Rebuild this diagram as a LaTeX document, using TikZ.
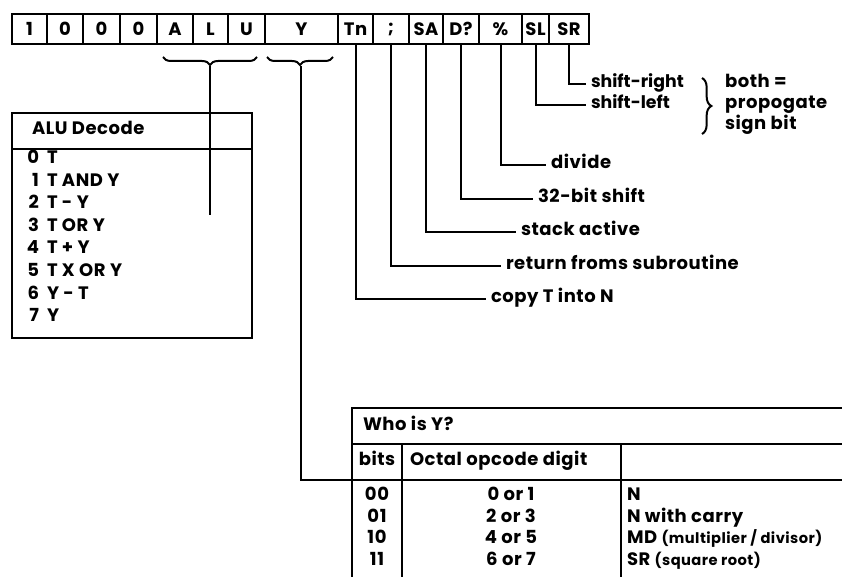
\documentclass[tikz,border=0pt]{standalone}
\usepackage{fontspec}
\setmainfont{Poppins}[LetterSpace=3]
\usetikzlibrary{decorations.pathreplacing}
\tikzset{
  cell/.style={draw, rectangle, inner sep=0pt, outer sep=0pt, minimum height=22.5pt},
  lbl/.style={anchor=west, inner xsep=3pt, inner ysep=0pt, text height=0.72em, text depth=0.18em},
  tight/.style={font=\bfseries\fontsize{13}{15}\selectfont\addfontfeatures{LetterSpace=0}},
  txt/.style={inner sep=0pt, text height=0.72em, text depth=0.18em},
  bracedown/.style={decorate, decoration={brace, mirror, amplitude=6pt}},
  braceright/.style={decorate, decoration={brace, amplitude=7pt}}
}
\newcommand{\paren}[1]{{\fontsize{11}{13}\selectfont\bfseries #1}}
\begin{document}
\begin{tikzpicture}[x=0.75pt, y=-0.75pt, line width=1.5pt, font=\bfseries\fontsize{13.5}{15}\selectfont]
\useasboundingbox (0,0) rectangle (842,577);

% register cells
\foreach \l/\r/\t/\n in {12/47/1/c1, 47/83/0/c2, 83/120/0/c3, 120/157/0/c4,
  157/193/A/c5, 193/228/L/c6, 228/265/U/c7, 265/338/Y/c8, 338/373/Tn/c9,
  373/409/;/c10, 409/443/SA/c11, 443/479/D?/c12, 479/522/\%/c13,
  522/549/SL/c14, 549/589/SR/c15}
  \node[cell, minimum width={(\r-\l)*0.75pt}] (\n) at ({(\l+\r)/2},29) {\t};

% labels on the right
\node[lbl, tight] (sr) at (586,84) {shift-right};
\node[lbl, tight] (sl) at (586,105) {shift-left};
\node[lbl] (dv) at (546,165) {divide};
\node[lbl] (sh) at (533,199) {32-bit shift};
\node[lbl] (sa) at (516,232) {stack active};
\node[lbl] (rs) at (501,266) {return froms subroutine};
\node[lbl] (tn) at (486,299) {copy T into N};

\draw (c15.south) |- (sr.west);
\draw (c14.south) |- (sl.west);
\draw (c13.south) |- (dv.west);
\draw (c12.south) |- (sh.west);
\draw (c11.south) |- (sa.west);
\draw (c10.south) |- (rs.west);
\draw (c9.south) |- (tn.west);

% both = propogate sign bit
\draw[braceright] (702,78) -- (702,134);
\node[lbl, inner xsep=0pt] (both) at (724,84) {both =};
\node[lbl, inner xsep=0pt] (prop) at (724,105) {propogate};
\node[lbl, inner xsep=0pt] (sign) at (724,126) {sign bit};

% braces under ALU and Y fields
\draw[bracedown] (163,57) -- (257,57);
\draw[bracedown] (267,57) -- (333,57);
\coordinate (alutip) at (210,66);
\coordinate (aluend) at (210,215);
\coordinate (ytip) at (301,66);
\draw (alutip) -- (aluend);

% ALU decode box
\node[draw, anchor=north west, inner sep=0pt, outer sep=0pt,
      minimum width=180pt, minimum height=168.75pt] (alu) at (12,113) {};
\coordinate (ah1) at (12,149);
\coordinate (ah2) at (252,149);
\draw (ah1) -- (ah2);
\node[txt, anchor=west] (alut) at (31,131) {ALU Decode};
\foreach \d/\t [count=\k] in {0/T, 1/T AND Y, 2/T - Y, 3/T OR Y, 4/T + Y,
  5/T X OR Y, 6/Y - T, 7/Y} {
  \node[txt, anchor=east] (ad\k) at (40,{160+(\k-1)*22.6}) {\d};
  \node[txt, anchor=west] (ar\k) at (46,{160+(\k-1)*22.6}) {\t};
}

% Who is Y table
\coordinate (t1) at (352,408);
\coordinate (t2) at (842,408);
\coordinate (t3) at (352,577);
\coordinate (s1a) at (352,444);
\coordinate (s1b) at (842,444);
\coordinate (ytab) at (352,480);
\coordinate (s2b) at (842,480);
\coordinate (k1a) at (402,444);
\coordinate (k1b) at (402,577);
\coordinate (k2a) at (621,444);
\coordinate (k2b) at (621,577);
\draw (t2) -- (t1) -- (t3);
\draw (s1a) -- (s1b);
\draw (ytab) -- (s2b);
\draw (k1a) -- (k1b);
\draw (k2a) -- (k2b);
\draw (ytip) |- (ytab);

\node[txt, anchor=west] (who) at (362,427) {Who is Y?};
\node[txt] (bits) at (377,462) {bits};
\node[txt, anchor=west] (oct) at (409,462) {Octal opcode digit};
\foreach \b/\o/\dsc [count=\k] in {00/0 or 1/N, 01/2 or 3/N with carry,
  10/4 or 5/MD \paren{(multiplier / divisor)},
  11/6 or 7/SR \paren{(square root)}} {
  \node[txt] (b\k) at (377,{497+(\k-1)*21.5}) {\b};
  \node[txt] (o\k) at (511,{497+(\k-1)*21.5}) {\o};
  \node[txt, anchor=west] (e\k) at (626,{497+(\k-1)*21.5}) {\dsc};
}
\end{tikzpicture}
\end{document}
